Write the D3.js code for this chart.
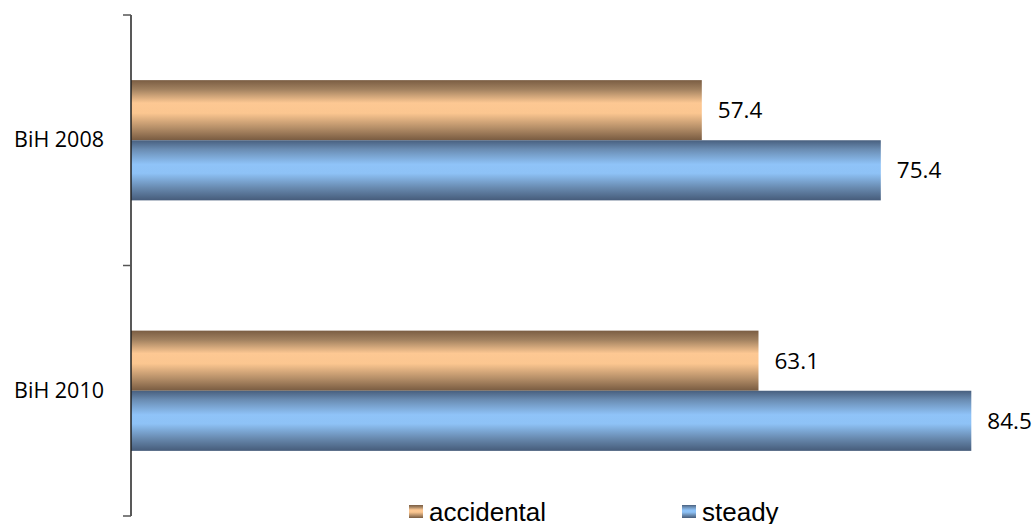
<!DOCTYPE html>
<html>
<head>
<meta charset="utf-8">
<script src="https://cdn.jsdelivr.net/npm/d3@7"></script>
<style>
  html, body { margin: 0; padding: 0; background: #fff; }
  svg { display: block; }
</style>
</head>
<body>
<svg id="chart" width="1035" height="524"></svg>
<script>
const categories = ["BiH 2008", "BiH 2010"];
const seriesNames = ["accidental", "steady"];
const accidental = [57.4, 63.1];
const steady = [75.4, 84.5];
const seriesValues = [accidental, steady];

const svg = d3.select("#chart");
const plotLeft = 131, plotRight = 1026, plotTop = 15, plotBottom = 516;

const defs = svg.append("defs");
function grad(id, stops) {
  const g = defs.append("linearGradient").attr("id", id)
    .attr("x1", 0).attr("y1", 0).attr("x2", 0).attr("y2", 1);
  stops.forEach(([o, c]) => g.append("stop").attr("offset", o).attr("stop-color", c));
}
grad("gAcc", [[0, "#7a5d43"], [0.15, "#a0805f"], [0.38, "#fdc893"], [0.55, "#fbc690"], [0.8, "#b38d67"], [1, "#785b41"]]);
grad("gSte", [[0, "#485f7e"], [0.15, "#6a8cb2"], [0.4, "#8fc3f8"], [0.55, "#8ec2f6"], [0.8, "#6788ad"], [1, "#465c7a"]]);
const fills = ["url(#gAcc)", "url(#gSte)"];

const x = d3.scaleLinear().domain([0, 90]).range([plotLeft, plotRight]);
const y = d3.scaleBand().domain(categories).range([plotTop, plotBottom]).paddingInner(0.52).paddingOuter(0.26);
const ySub = d3.scaleBand().domain(seriesNames).range([0, y.bandwidth()]);

const groups = svg.selectAll("g.cat").data(categories).join("g")
  .attr("class", "cat")
  .attr("transform", d => `translate(0,${y(d)})`);

seriesNames.forEach((s, si) => {
  groups.append("rect")
    .attr("x", x(0))
    .attr("y", ySub(s))
    .attr("width", (d, i) => x(seriesValues[si][i]) - x(0))
    .attr("height", ySub.bandwidth())
    .attr("fill", fills[si]);
  groups.append("text")
    .attr("x", (d, i) => x(seriesValues[si][i]) + 16)
    .attr("y", ySub(s) + ySub.bandwidth() / 2)
    .attr("dy", "0.35em")
    .attr("font-family", "'Open Sans', sans-serif")
    .attr("font-size", 22.5)
    .attr("fill", "#000")
    .text((d, i) => seriesValues[si][i].toFixed(1));
});

// axis line with category-boundary ticks
const tickPos = [plotTop, (plotTop + plotBottom) / 2, plotBottom];
svg.append("line").attr("x1", plotLeft).attr("x2", plotLeft).attr("y1", plotTop).attr("y2", plotBottom)
  .attr("stroke", "#222").attr("stroke-width", 1.5);
svg.selectAll("line.tk").data(tickPos).join("line").attr("class", "tk")
  .attr("x1", plotLeft - 8).attr("x2", plotLeft).attr("y1", d => d).attr("y2", d => d)
  .attr("stroke", "#555").attr("stroke-width", 1.5);

// category labels
svg.selectAll("text.cl").data(categories).join("text").attr("class", "cl")
  .attr("x", 104)
  .attr("y", d => y(d) + y.bandwidth() / 2)
  .attr("dy", "0.33em")
  .attr("text-anchor", "end")
  .attr("font-family", "'Open Sans', sans-serif")
  .attr("font-size", 21.5)
  .attr("fill", "#000")
  .text(d => d);

// legend
const legendX = [409, 682];
const lg = svg.selectAll("g.lg").data(seriesNames).join("g").attr("class", "lg")
  .attr("transform", (d, i) => `translate(${legendX[i]},505)`);
lg.append("rect").attr("width", 14).attr("height", 13).attr("fill", (d, i) => fills[i]);
lg.append("text").attr("x", 20).attr("y", 15.5)
  .attr("font-family", "'Liberation Sans', Arial, sans-serif")
  .attr("font-size", 26)
  .attr("fill", "#000")
  .text(d => d);
</script>
</body>
</html>
